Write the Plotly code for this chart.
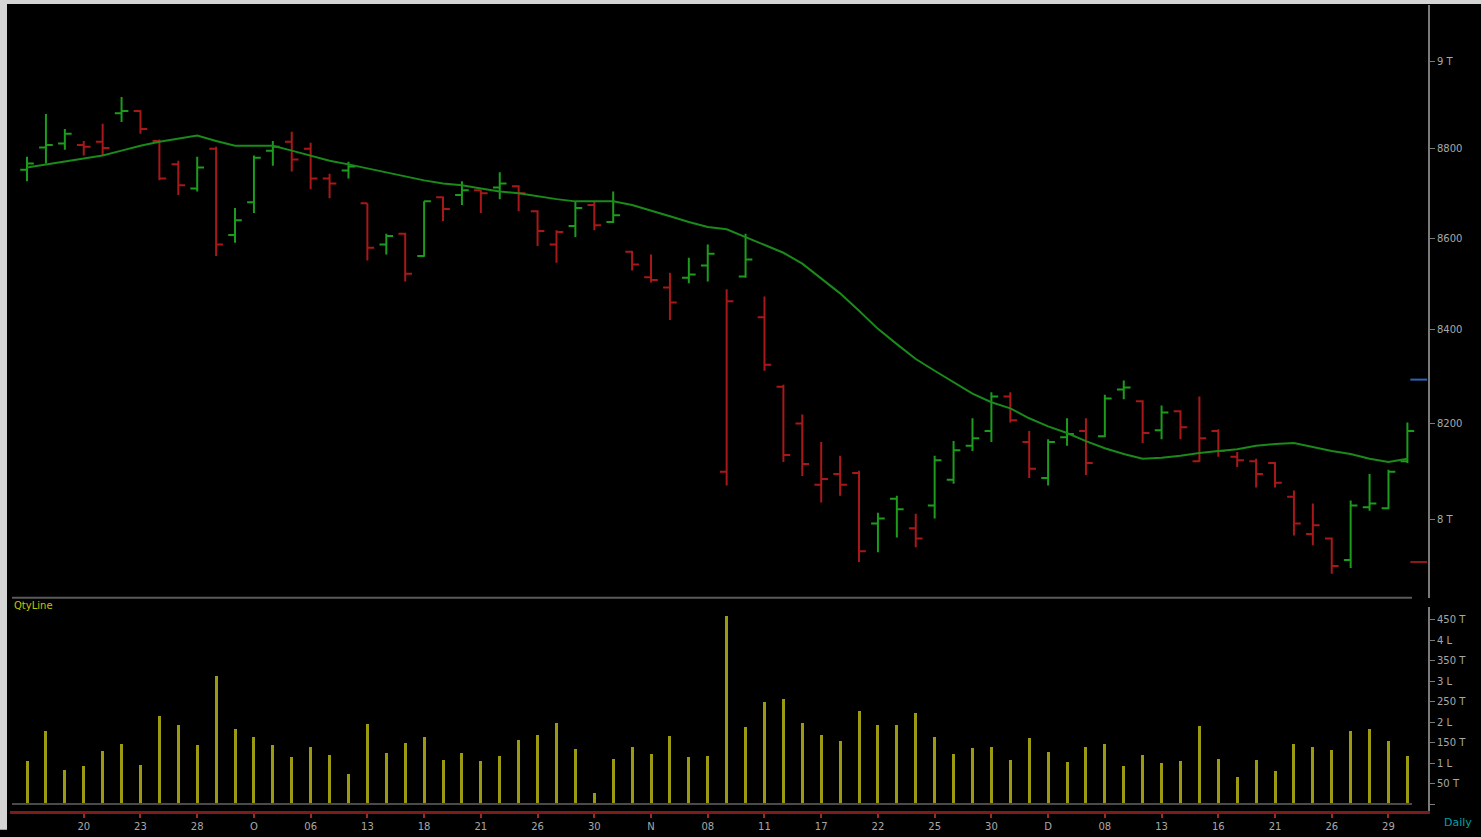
import plotly.graph_objects as go

# ---------------- data ----------------
tick_pos = [3, 6, 9, 12, 15, 18, 21, 24, 27, 30, 33, 36, 39, 42, 45, 48, 51, 54, 57, 60, 63, 66, 69, 72]
tick_labels = ["20", "23", "28", "O", "06", "13", "18", "21", "26", "30", "N", "08",
               "11", "17", "22", "25", "30", "D", "08", "13", "16", "21", "26", "29"]

opens = [8753, 8803, 8812, 8809, 8816, 8881, 8886, 8818, 8765, 8711, 8800, 8607, 8680, 8796, 8816,
         8800, 8733, 8751, 8678, 8586, 8610, 8561, 8691, 8696, 8707, 8713, 8716, 8660, 8586, 8627,
         8674, 8636, 8570, 8514, 8492, 8513, 8540, 8099, 8516, 8427, 8278, 8200, 8072, 8094, 8096,
         7992, 8043, 7982, 8029, 8082, 8153, 8184, 8257, 8161, 8086, 8171, 8184, 8173, 8272, 8247,
         8186, 8226, 8121, 8184, 8130, 8121, 8117, 8047, 7970, 7961, 7917, 8025, 8023, 8121]
highs = [8782, 8879, 8845, 8818, 8857, 8918, 8888, 8821, 8773, 8782, 8805, 8667, 8785, 8818, 8839,
         8814, 8744, 8771, 8678, 8610, 8612, 8682, 8693, 8727, 8707, 8747, 8718, 8662, 8618, 8682,
         8682, 8704, 8572, 8564, 8524, 8557, 8586, 8488, 8610, 8472, 8282, 8219, 8161, 8132, 8101,
         8014, 8049, 8012, 8132, 8163, 8211, 8266, 8266, 8184, 8167, 8211, 8211, 8261, 8291, 8249,
         8238, 8228, 8257, 8188, 8140, 8126, 8119, 8060, 8033, 7963, 8039, 8094, 8103, 8202]
lows = [8727, 8767, 8798, 8785, 8785, 8861, 8834, 8729, 8696, 8704, 8561, 8590, 8656, 8762, 8749,
        8709, 8689, 8733, 8551, 8564, 8505, 8559, 8638, 8674, 8656, 8687, 8660, 8583, 8546, 8603,
        8618, 8634, 8529, 8503, 8421, 8501, 8505, 8070, 8513, 8312, 8119, 8090, 8035, 8049, 7913,
        7933, 7963, 7943, 8002, 8074, 8142, 8161, 8202, 8086, 8070, 8153, 8092, 8171, 8251, 8159,
        8167, 8167, 8119, 8130, 8109, 8066, 8066, 7967, 7947, 7889, 7901, 8018, 8021, 8117]
closes = [8767, 8809, 8834, 8805, 8802, 8886, 8845, 8733, 8718, 8758, 8586, 8640, 8780, 8805, 8776,
          8733, 8722, 8760, 8579, 8605, 8522, 8682, 8665, 8707, 8700, 8722, 8700, 8616, 8614, 8667,
          8629, 8651, 8542, 8508, 8459, 8520, 8566, 8462, 8553, 8325, 8134, 8115, 8084, 8072, 7935,
          8002, 8021, 7961, 8123, 8144, 8169, 8257, 8207, 8105, 8161, 8178, 8117, 8253, 8276, 8180,
          8223, 8192, 8169, 8142, 8123, 8094, 8076, 7992, 7988, 7905, 8029, 8033, 8099, 8184]
# bar colour as drawn (g = up vs previous close, r = down)
bar_dir = ["g", "g", "g", "r", "r", "g", "r", "r", "r", "g", "r", "g", "g", "g", "r",
           "r", "r", "g", "r", "g", "r", "g", "r", "g", "r", "g", "r", "r", "r", "g",
           "r", "g", "r", "r", "r", "g", "g", "r", "g", "r", "r", "r", "r", "r", "r",
           "g", "g", "r", "g", "g", "g", "g", "r", "r", "g", "g", "r", "g", "g", "r",
           "g", "r", "r", "r", "r", "r", "r", "r", "r", "r", "g", "g", "g", "g"]
moving_avg = [8758, 8765, 8771, 8778, 8785, 8796, 8807, 8816, 8823, 8830, 8818, 8807, 8807, 8807, 8796,
              8785, 8773, 8765, 8756, 8747, 8738, 8729, 8722, 8718, 8711, 8704, 8700, 8693, 8687, 8682,
              8682, 8682, 8674, 8662, 8649, 8636, 8625, 8620, 8603, 8586, 8568, 8544, 8511, 8479, 8441,
              8402, 8369, 8337, 8312, 8287, 8263, 8245, 8232, 8211, 8194, 8180, 8163, 8148, 8136, 8126,
              8128, 8132, 8138, 8142, 8146, 8153, 8157, 8159, 8150, 8142, 8136, 8126, 8119, 8126]
volumes = [105000, 180000, 83000, 93000, 129000, 146000, 95000, 215000, 193000, 144000,
           312000, 183000, 163000, 144000, 115000, 139000, 120000, 73000, 195000, 124000,
           149000, 163000, 107000, 124000, 105000, 117000, 156000, 168000, 198000, 134000,
           27000, 110000, 139000, 122000, 166000, 115000, 117000, 459000, 188000, 249000,
           256000, 198000, 168000, 154000, 227000, 193000, 193000, 222000, 163000, 122000,
           137000, 141000, 107000, 161000, 127000, 102000, 141000, 146000, 93000, 120000,
           100000, 105000, 190000, 110000, 66000, 107000, 80000, 146000, 141000, 132000,
           178000, 183000, 154000, 117000]
price_ticks = [8000, 8200, 8400, 8600, 8800, 9000]
price_tick_labels = ["8 T", "8200", "8400", "8600", "8800", "9 T"]
vol_ticks = [0, 50000, 100000, 150000, 200000, 250000, 300000, 350000, 400000, 450000]
vol_tick_labels = ["", "50 T", "1 L", "150 T", "2 L", "250 T", "3 L", "350 T", "4 L", "450 T"]
marker_levels = [8293, 7913]

# ---------------- styling ----------------
GREEN = "#1c9c1c"
RED = "#a81818"
MA_COLOR = "#1a8a1a"
VOL_COLOR = "#9c9a10"
AXIS_GREY = "#7a7a7a"
TEXT_GREY = "#a8a8a8"
FONT = "DejaVu Sans"

W, H = 1481, 837
ML, MR, MT, MB = 10, 53, 5, 19
PW = W - ML - MR
PH = H - MT - MB


def px_x(p):
    return (p - ML) / PW


def px_y(p):
    return (H - MB - p) / PH


x = list(range(len(opens)))
fig = go.Figure()

for d, col in (("g", GREEN), ("r", RED)):
    idx = [i for i, c in enumerate(bar_dir) if c == d]
    fig.add_trace(go.Ohlc(
        x=[x[i] for i in idx],
        open=[opens[i] for i in idx], high=[highs[i] for i in idx],
        low=[lows[i] for i in idx], close=[closes[i] for i in idx],
        increasing_line_color=col, decreasing_line_color=col,
        line_width=2, tickwidth=0.36, xaxis="x", yaxis="y",
        hoverinfo="skip"))

fig.add_trace(go.Scatter(x=x, y=moving_avg, mode="lines",
                         line=dict(color=MA_COLOR, width=2),
                         xaxis="x", yaxis="y", hoverinfo="skip"))

fig.add_trace(go.Scatter(x=[73.6, 73.6], y=marker_levels, mode="markers",
                         marker=dict(symbol="line-ew", size=12,
                                     line=dict(width=2, color=["#2a64b8", "#8a1a1a"])),
                         xaxis="x", yaxis="y", hoverinfo="skip"))

fig.add_trace(go.Bar(x=x, y=volumes, width=0.16,
                     marker=dict(color=VOL_COLOR, line=dict(width=0)),
                     xaxis="x", yaxis="y2", hoverinfo="skip"))

fig.update_layout(
    width=W, height=H,
    margin=dict(l=ML, r=MR, t=MT, b=MB),
    paper_bgcolor="black", plot_bgcolor="black",
    showlegend=False,
    font=dict(family=FONT, color=TEXT_GREY, size=10),
    xaxis=dict(range=[-0.9, 74.09], anchor="y2", tickmode="array",
               tickvals=tick_pos, ticktext=tick_labels,
               showline=True, linecolor="#7a1c1c", linewidth=3,
               ticks="outside", tickcolor="#a02828", ticklen=4, tickwidth=2,
               tickfont=dict(color=TEXT_GREY, size=10, family=FONT),
               showgrid=False, zeroline=False,
               rangeslider=dict(visible=False)),
    yaxis=dict(type="log", domain=[px_y(603), 1],
               range=[3.89434, 3.96055], side="right", anchor="x",
               tickmode="array", tickvals=price_ticks, ticktext=price_tick_labels,
               showline=True, linecolor=AXIS_GREY, linewidth=2,
               ticks="outside", tickcolor=AXIS_GREY, ticklen=5,
               tickfont=dict(color=TEXT_GREY, size=10, family=FONT),
               showgrid=False, zeroline=False),
    yaxis2=dict(domain=[0, px_y(612)], range=[-17000, 481500],
                side="right", anchor="x",
                tickmode="array", tickvals=vol_ticks, ticktext=vol_tick_labels,
                showline=True, linecolor=AXIS_GREY, linewidth=2,
                ticks="outside", tickcolor=AXIS_GREY, ticklen=5,
                tickfont=dict(color=TEXT_GREY, size=10, family=FONT),
                showgrid=False, zeroline=False),
    bargap=0,
)

shapes = [
    # separator between panels
    dict(type="line", xref="paper", yref="paper", x0=px_x(12), x1=px_x(1412),
         y0=px_y(603), y1=px_y(603), line=dict(color="#5a5a5a", width=2)),
    # volume baseline
    dict(type="line", xref="paper", yref="y2", x0=px_x(12), x1=px_x(1412),
         y0=0, y1=0, line=dict(color="#4a4a4a", width=2)),
    # light window border left / top
    dict(type="rect", xref="paper", yref="paper", x0=px_x(0), x1=px_x(7),
         y0=px_y(H), y1=px_y(0), fillcolor="#d4d4d4", line=dict(width=0), layer="above"),
    dict(type="rect", xref="paper", yref="paper", x0=px_x(0), x1=px_x(W),
         y0=px_y(4), y1=px_y(0), fillcolor="#d4d4d4", line=dict(width=0), layer="above"),
]
fig.update_layout(shapes=shapes)

fig.add_annotation(text="QtyLine", xref="paper", yref="paper", x=px_x(12), y=px_y(611),
                   xanchor="left", yanchor="middle", showarrow=False,
                   font=dict(color="#c4c400", size=10, family=FONT))
fig.add_annotation(text="Daily", xref="paper", yref="paper", x=px_x(1442), y=px_y(830),
                   xanchor="left", yanchor="middle", showarrow=False,
                   font=dict(color="#00a0a8", size=11, family=FONT))

fig.write_html("out.html", config={"displayModeBar": False},
               post_script="document.body.style.margin='0px';document.body.style.overflow='hidden';"
                           "document.body.style.background='black';")
